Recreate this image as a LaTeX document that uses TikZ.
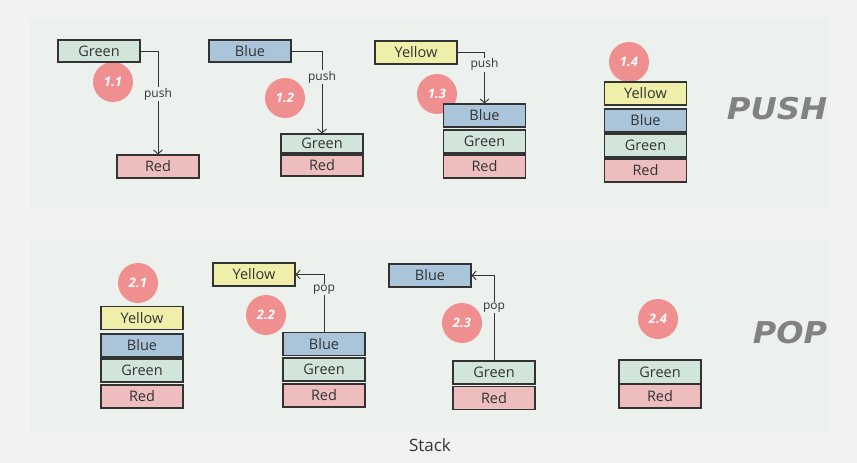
\documentclass[tikz,border=0pt]{standalone}
\usepackage{fontspec}
\setmainfont{Open Sans}
\newfontfamily\bigfont{DejaVu Sans}
\usetikzlibrary{arrows.meta}
\definecolor{bgc}{HTML}{F2F2F2}
\definecolor{panelc}{HTML}{EDF1ED}
\definecolor{gfill}{HTML}{D2E5DA}
\definecolor{bfill}{HTML}{AAC5DA}
\definecolor{yfill}{HTML}{EFEFAA}
\definecolor{rfill}{HTML}{EEBEBE}
\definecolor{circc}{HTML}{EF8F8F}
\definecolor{linec}{HTML}{333333}
\definecolor{titlec}{HTML}{828282}
\tikzset{
  box/.style={draw=linec, line width=1.1pt, minimum width=82pt, minimum height=23pt, inner sep=0pt, text=linec, font=\fontsize{14.5}{16}\selectfont},
  gbox/.style={box, fill=gfill},
  bbox/.style={box, fill=bfill},
  ybox/.style={box, fill=yfill},
  rbox/.style={box, fill=rfill},
  numc/.style={circle, fill=circc, minimum size=40pt, inner sep=0pt, text=white, font=\fontsize{13}{14}\selectfont\bfseries\itshape},
  arr/.style={draw=linec, line width=0.9pt, -{Straight Barb[length=4pt,width=9pt]}},
  lbl/.style={fill=panelc, inner sep=1pt, text=linec, font=\fontsize{12}{13}\selectfont},
  bigt/.style={text=titlec, font=\bigfont\fontsize{30}{32}\selectfont\bfseries\itshape}
}
\begin{document}
\begin{tikzpicture}[x=1pt,y=-1pt]
\useasboundingbox (0,0) rectangle (857,463);
\fill[bgc] (0,0) rectangle (857,463);
\fill[panelc] (30,18) rectangle (829,208);
\fill[panelc] (30,241) rectangle (829,432);

% circles
\node[numc] (c11) at (113,82) {1.1};
\node[numc] (c12) at (285,98) {1.2};
\node[numc] (c13) at (437,94) {1.3};
\node[numc] (c14) at (629,62) {1.4};
\node[numc] (c21) at (138,283) {2.1};
\node[numc] (c22) at (266,315) {2.2};
\node[numc] (c23) at (462,323) {2.3};
\node[numc] (c24) at (658,319) {2.4};

% PUSH row
\node[gbox, minimum height=22pt] (g11) at (99,51) {Green};
\node[rbox] (r11) at (158,166.5) {Red};
\node[bbox, minimum height=22pt] (b12) at (250,51) {Blue};
\node[gbox, minimum height=19pt] (g12) at (322,143.5) {Green};
\node[rbox, minimum height=21pt] (r12) at (322,165.5) {Red};
\node[ybox] (y13) at (416,52.5) {Yellow};
\node[bbox] (b13) at (484.5,115.5) {Blue};
\node[gbox] (g13) at (484.5,141.5) {Green};
\node[rbox] (r13) at (484.5,166.5) {Red};
\node[ybox] (y14) at (645.5,93.5) {Yellow};
\node[bbox] (b14) at (645.5,120.5) {Blue};
\node[gbox] (g14) at (645.5,145.5) {Green};
\node[rbox] (r14) at (645.5,170.5) {Red};

\draw[arr] (g11.east) -| node[lbl, pos=0.71] {push} (r11.north);
\draw[arr] (b12.east) -| node[lbl, pos=0.66] {push} (g12.north);
\draw[arr] (y13.east) -| node[lbl, pos=0.62] {push} (b13.north);

\node[bigt, xscale=1.08] (push) at (777,109) {PUSH};

% POP row
\node[ybox] (y21) at (142,318) {Yellow};
\node[bbox] (b21) at (142,345.5) {Blue};
\node[gbox] (g21) at (142,370.5) {Green};
\node[rbox] (r21) at (142,396.5) {Red};
\node[ybox] (y22) at (254,274.5) {Yellow};
\node[bbox] (b22) at (324,344) {Blue};
\node[gbox] (g22) at (324,369.5) {Green};
\node[rbox] (r22) at (324,395.5) {Red};
\node[bbox] (b23) at (430,275.5) {Blue};
\node[gbox] (g23) at (494,372.5) {Green};
\node[rbox] (r23) at (494,398) {Red};
\node[gbox, minimum height=24pt] (g24) at (660,372) {Green};
\node[rbox, minimum height=24pt] (r24) at (660,396) {Red};

\draw[arr] (b22.north) |- node[lbl, pos=0.37] {pop} (y22.east);
\draw[arr] (g23.north) |- node[lbl, pos=0.31] {pop} (b23.east);

\node[bigt, xscale=1.07] (pop) at (790,333) {POP};

\node[text=linec, font=\fontsize{17}{19}\selectfont] (cap) at (430,445) {Stack};
\end{tikzpicture}
\end{document}
